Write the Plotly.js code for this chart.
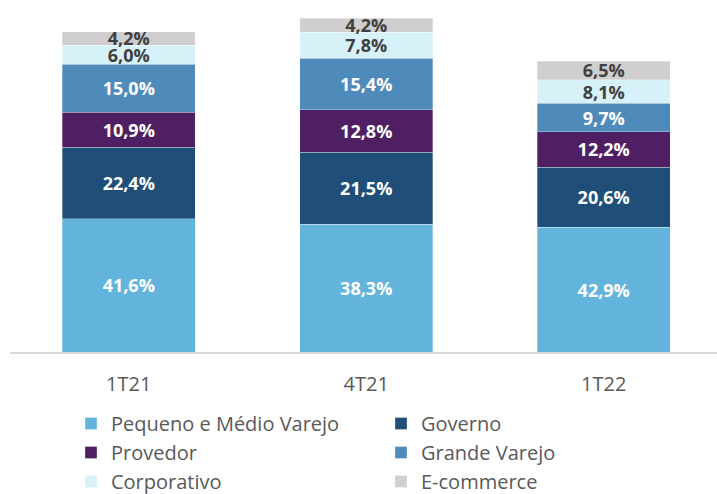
<!DOCTYPE html>
<html>
<head>
<meta charset="utf-8">
<script src="https://cdn.plot.ly/plotly-3.0.1.min.js"></script>
<style>html,body{margin:0;padding:0;background:#fff;}#chart{width:717px;height:494px;}</style>
</head>
<body>
<div id="chart"></div>
<script>
// Categories (quarters)
const categories = ["1T21", "4T21", "1T22"];
// Relative bar totals (bars differ in height)
const totals = [320, 334, 291];
// Share of each segment (%)
const pequenoMedioVarejo = [41.6, 38.3, 42.9];
const governo = [22.4, 21.5, 20.6];
const provedor = [10.9, 12.8, 12.2];
const grandeVarejo = [15.0, 15.4, 9.7];
const corporativo = [6.0, 7.8, 8.1];
const eCommerce = [4.2, 4.2, 6.5];

const seriesNames = ["Pequeno e Médio Varejo", "Governo", "Provedor", "Grande Varejo", "Corporativo", "E-commerce"];
const seriesShares = [pequenoMedioVarejo, governo, provedor, grandeVarejo, corporativo, eCommerce];
const colors = ["#63b4dc", "#1f4e79", "#501f63", "#4f8bba", "#d6f2f8", "#d0cecf"];
const textColors = ["#ffffff", "#ffffff", "#ffffff", "#ffffff", "#404040", "#404040"];

const fmt = v => v.toFixed(1).replace(".", ",") + "%";

const traces = seriesNames.map((name, i) => ({
  type: "bar",
  name: name,
  x: categories,
  y: seriesShares[i].map((p, j) => totals[j] * p / 100),
  text: seriesShares[i].map(fmt),
  textposition: "inside",
  insidetextanchor: "middle",
  constraintext: "none",
  textangle: 0,
  textfont: {family: "Open Sans, sans-serif", size: 18, color: textColors[i], weight: "bold"},
  marker: {color: colors[i], line: {color: "rgba(255,255,255,0.5)", width: 0.6}},
  hoverinfo: "skip"
}));

const layout = {
  width: 717, height: 494,
  barmode: "stack",
  bargap: 0.44,
  margin: {l: 10, r: 0, t: 10, b: 142},
  paper_bgcolor: "#ffffff",
  plot_bgcolor: "#ffffff",
  font: {family: "Open Sans, sans-serif", color: "#595959"},
  xaxis: {
    range: [-0.5, 2.477],
    showline: true, linecolor: "#d9d9d9", linewidth: 2,
    ticks: "outside", ticklen: 13, tickcolor: "rgba(0,0,0,0)",
    tickfont: {size: 20, color: "#595959"},
    showgrid: false, zeroline: false, fixedrange: true
  },
  yaxis: {
    range: [0, 342], visible: false, showgrid: false, zeroline: false, fixedrange: true
  },
  showlegend: true,
  legend: {
    orientation: "h",
    xref: "container", yref: "container",
    x: 0.099, y: 1 - 404/494, xanchor: "left", yanchor: "top",
    entrywidth: 265, entrywidthmode: "pixels",
    traceorder: "normal",
    font: {size: 20, color: "#595959"},
    itemclick: false, itemdoubleclick: false
  }
};

Plotly.newPlot("chart", traces, layout, {displayModeBar: false, staticPlot: true});
</script>
</body>
</html>
